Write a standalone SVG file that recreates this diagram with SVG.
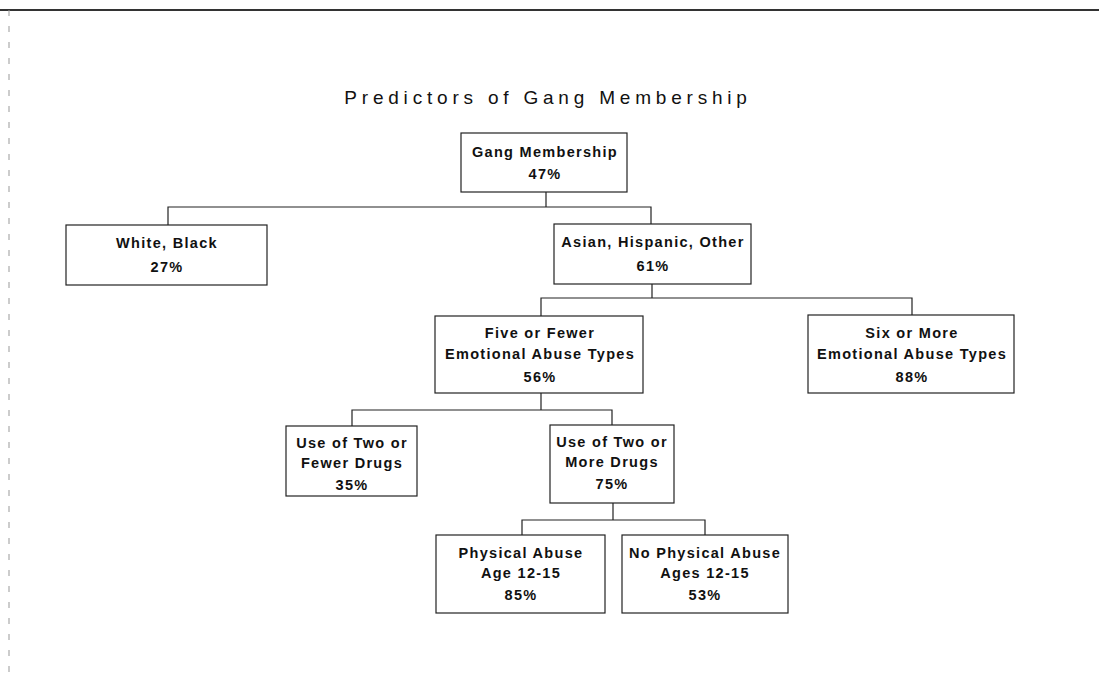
<svg xmlns="http://www.w3.org/2000/svg" width="1099" height="675" viewBox="0 0 1099 675">
<style>
.box{fill:#fff;stroke:#222;stroke-width:1.2}
.t{font-family:"Liberation Sans",Arial,sans-serif;font-size:14.5px;font-weight:bold;letter-spacing:1.3px;fill:#111;text-anchor:middle}
.title{font-family:"Liberation Sans",Arial,sans-serif;font-size:19px;letter-spacing:4.8px;fill:#111;text-anchor:middle}
.c{fill:none;stroke:#222;stroke-width:1.2}
</style>
<rect width="1099" height="675" fill="#fff"/>
<g id="frame">
<line x1="0" y1="10" x2="1099" y2="10" stroke="#333" stroke-width="2"/>
<line x1="9" y1="10" x2="9" y2="675" stroke="#999" stroke-width="1" stroke-dasharray="6 10"/>
</g>
<text class="title" x="548" y="104">Predictors of Gang Membership</text>
<g id="connectors">
<path class="c" d="M546 192V207M168 225V207H651V224"/>
<path class="c" d="M652 284V298M541 316V298H912V315"/>
<path class="c" d="M541 393V410M352 426V410H612V425"/>
<path class="c" d="M613 503V520M522 535V520H705V535"/>
</g>
<g id="n-gang">
<rect class="box" x="461" y="133" width="166" height="59"/>
<text class="t" x="545" y="157">Gang Membership</text>
<text class="t" x="545" y="179">47%</text>
</g>
<g id="n-white">
<rect class="box" x="66" y="225" width="201" height="60"/>
<text class="t" x="167" y="248">White, Black</text>
<text class="t" x="167" y="272">27%</text>
</g>
<g id="n-asian">
<rect class="box" x="554" y="224" width="197" height="60"/>
<text class="t" x="653" y="247">Asian, Hispanic, Other</text>
<text class="t" x="653" y="271">61%</text>
</g>
<g id="n-five">
<rect class="box" x="435" y="316" width="208" height="77"/>
<text class="t" x="540" y="338">Five or Fewer</text>
<text class="t" x="540" y="359">Emotional Abuse Types</text>
<text class="t" x="540" y="382">56%</text>
</g>
<g id="n-six">
<rect class="box" x="808" y="315" width="206" height="78"/>
<text class="t" x="912" y="338">Six or More</text>
<text class="t" x="912" y="359">Emotional Abuse Types</text>
<text class="t" x="912" y="382">88%</text>
</g>
<g id="n-fewer">
<rect class="box" x="286" y="426" width="131" height="70"/>
<text class="t" x="352" y="448">Use of Two or</text>
<text class="t" x="352" y="468">Fewer Drugs</text>
<text class="t" x="352" y="490">35%</text>
</g>
<g id="n-more">
<rect class="box" x="550" y="425" width="124" height="78"/>
<text class="t" x="612" y="447">Use of Two or</text>
<text class="t" x="612" y="467">More Drugs</text>
<text class="t" x="612" y="489">75%</text>
</g>
<g id="n-phys">
<rect class="box" x="436" y="535" width="169" height="78"/>
<text class="t" x="521" y="558">Physical Abuse</text>
<text class="t" x="521" y="578">Age 12-15</text>
<text class="t" x="521" y="600">85%</text>
</g>
<g id="n-nophys">
<rect class="box" x="622" y="535" width="166" height="78"/>
<text class="t" x="705" y="558">No Physical Abuse</text>
<text class="t" x="705" y="578">Ages 12-15</text>
<text class="t" x="705" y="600">53%</text>
</g>
</svg>
